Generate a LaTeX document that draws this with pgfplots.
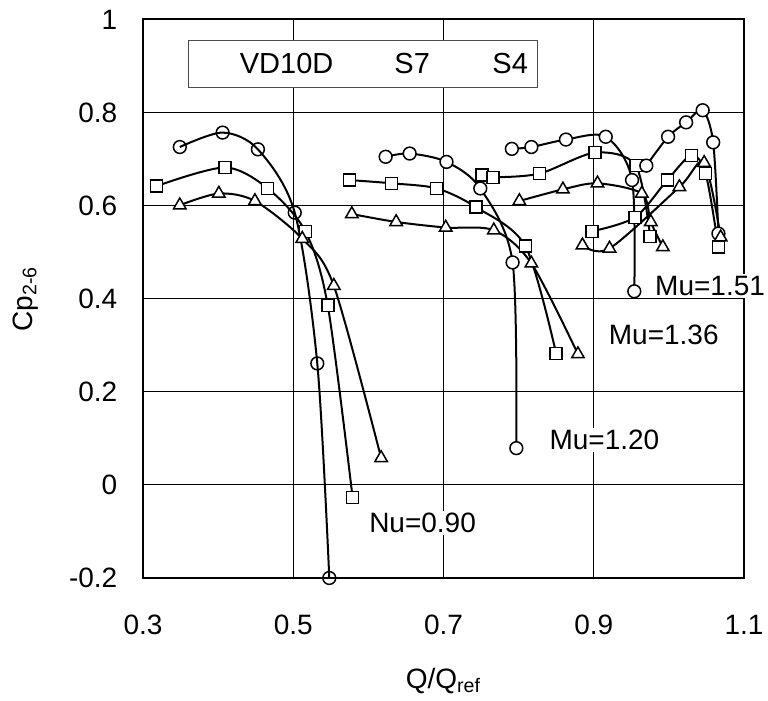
\documentclass[border=0pt]{standalone}
\usepackage{fontspec}
\setmainfont{Liberation Sans}
\usepackage{pgfplots}
\pgfplotsset{compat=1.18}
\begin{document}
\fontsize{14pt}{17pt}\selectfont
\begin{tikzpicture}
\useasboundingbox (-71.5pt,-61.5pt) rectangle (312.5pt,289pt);
\begin{axis}[
  at={(0,0)}, anchor=south west,
  width=300.5pt, height=279.25pt, scale only axis,
  xmin=0.3, xmax=1.1, ymin=-0.2, ymax=1,
  xtick={0.3,0.5,0.7,0.9,1.1}, xticklabels={0.3,0.5,0.7,0.9,1.1},
  ytick={-0.2,0,0.2,0.4,0.6,0.8,1}, yticklabels={-0.2,0,0.2,0.4,0.6,0.8,1},
  grid=major, major grid style={black, line width=0.5pt},
  axis line style={line width=1pt},
  major tick length=5pt, tick style={black, line width=0.5pt},
  xticklabel style={anchor=base, yshift=-28.5pt},
  yticklabel style={xshift=-8pt},
  xlabel={Q/Q\textsubscript{ref}}, ylabel={Cp\textsubscript{2-6}},
  xlabel style={at={(axis description cs:0.5,-0.197)}, anchor=base},
  ylabel style={at={(axis description cs:-0.196,0.5)}, anchor=center},
  clip=false,
  every axis plot/.append style={black, line width=1pt, smooth, tension=0.5,
    mark options={fill=white, line width=0.75pt, solid}},
]
% legend box
\draw[black!70, line width=0.5pt, fill=white] (rel axis cs:0.075,0.879) rectangle (rel axis cs:0.657,0.963);
\node[font=\fontsize{14.5pt}{17pt}\selectfont] at (rel axis cs:0.239,0.921) {VD10D};
\node[font=\fontsize{14.5pt}{17pt}\selectfont] at (rel axis cs:0.448,0.921) {S7};
\node[font=\fontsize{14.5pt}{17pt}\selectfont] at (rel axis cs:0.611,0.921) {S4};

% Nu = 0.90
\addplot[mark=o, mark size=3.2pt] coordinates {(0.349,0.726) (0.406,0.757) (0.453,0.721) (0.502,0.585) (0.532,0.261) (0.548,-0.200)};
\addplot[mark=square*, mark size=3pt] coordinates {(0.318,0.642) (0.409,0.682) (0.466,0.637) (0.516,0.545) (0.546,0.385) (0.579,-0.027)};
\addplot[mark=triangle*, mark size=3.6pt] coordinates {(0.349,0.601) (0.401,0.626) (0.449,0.610) (0.512,0.529) (0.554,0.428) (0.617,0.058)};

% Mu = 1.20
\addplot[mark=*, mark size=3.2pt] coordinates {(0.623,0.705) (0.655,0.712) (0.704,0.694) (0.749,0.637) (0.792,0.478) (0.797,0.079)};
\addplot[mark=square*, mark size=3pt] coordinates {(0.575,0.655) (0.631,0.648) (0.691,0.637) (0.743,0.597) (0.809,0.513) (0.850,0.282)};
\addplot[mark=triangle*, mark size=3.6pt] coordinates {(0.578,0.582) (0.637,0.565) (0.703,0.553) (0.767,0.547) (0.817,0.476) (0.879,0.281)};

% Mu = 1.36
\addplot[mark=*, mark size=3.2pt] coordinates {(0.791,0.722) (0.817,0.726) (0.863,0.742) (0.916,0.748) (0.951,0.655) (0.954,0.416)};
\addplot[mark=square*, mark size=3pt] coordinates {(0.751,0.666) (0.766,0.661) (0.828,0.669) (0.902,0.714) (0.956,0.686) (0.975,0.534)};
\addplot[mark=triangle*, mark size=3.6pt] coordinates {(0.801,0.610) (0.859,0.635) (0.905,0.648) (0.964,0.626) (0.976,0.565) (0.992,0.511)};

% Mu = 1.51
\addplot[mark=*, mark size=3.2pt] coordinates {(0.970,0.686) (0.999,0.748) (1.023,0.779) (1.045,0.805) (1.059,0.736) (1.066,0.540)};
\addplot[mark=square*, mark size=3pt] coordinates {(0.898,0.545) (0.955,0.575) (0.998,0.655) (1.030,0.708) (1.049,0.669) (1.066,0.511)};
\addplot[mark=triangle*, mark size=3.6pt] coordinates {(0.885,0.515) (0.921,0.508) (1.014,0.640) (1.047,0.692) (1.069,0.532)};

% labels
\node[fill=white, inner sep=1pt, anchor=west] at (axis cs:0.598,-0.081) {Nu=0.90};
\node[fill=white, inner sep=1pt, anchor=west] at (axis cs:0.838,0.096) {Mu=1.20};
\node[fill=white, inner sep=1pt, anchor=west] at (axis cs:0.917,0.322) {Mu=1.36};
\node[fill=white, inner xsep=0.5pt, inner ysep=1pt, anchor=west] at (axis cs:0.980,0.427) {Mu=1.51};
\end{axis}
\end{tikzpicture}
\end{document}
